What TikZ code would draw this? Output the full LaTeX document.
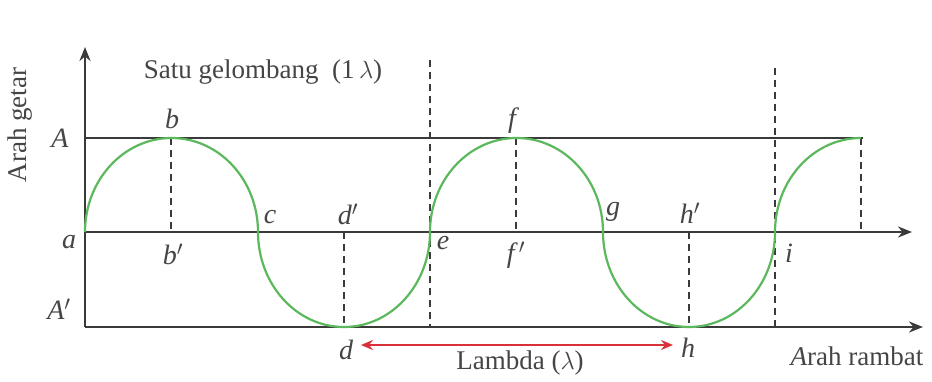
\documentclass[tikz,border=0pt]{standalone}
\usepackage{fontspec}
\setmainfont{Liberation Serif}
\usetikzlibrary{arrows.meta}
\definecolor{axisgray}{HTML}{3A3A3A}
\definecolor{wavegreen}{HTML}{5CB85C}
\definecolor{arrowred}{HTML}{D9303A}
\definecolor{txtgray}{HTML}{454545}
\begin{document}
\begin{tikzpicture}[x=1pt,y=-1pt,
  axis/.style={draw=axisgray,line width=2.8pt},
  axisarrow/.style={axis,-{Stealth[length=14pt,width=11pt]}},
  wave/.style={draw=wavegreen,line width=2.2pt},
  guide/.style={draw=axisgray,line width=2.4pt,dash pattern=on 7pt off 5pt},
  lbl/.style={text=txtgray,font=\fontsize{28}{32}\selectfont\itshape,inner sep=0pt},
  txt/.style={text=txtgray,font=\fontsize{27}{31}\selectfont,inner sep=0pt}]
\useasboundingbox[fill=white] (0,0) rectangle (932,382);
% key points
\coordinate (O) at (85,327);
\coordinate (Ytop) at (85,47);
\coordinate (Atop) at (85,138);
\coordinate (Aend) at (863,138);
\coordinate (a) at (85,232);
\coordinate (Xend) at (912,232);
\coordinate (Bend) at (923,327);
\coordinate (b) at (171,138);
\coordinate (bp) at (171,232);
\coordinate (c) at (258,232);
\coordinate (d) at (344,327);
\coordinate (dp) at (344,232);
\coordinate (e) at (430,232);
\coordinate (etop) at (430,60);
\coordinate (ebot) at (430,327);
\coordinate (f) at (516,138);
\coordinate (fp) at (516,232);
\coordinate (g) at (603,232);
\coordinate (h) at (689,327);
\coordinate (hp) at (689,232);
\coordinate (i) at (775,232);
\coordinate (itop) at (775,68);
\coordinate (ibot) at (775,327);
\coordinate (j) at (861,138);
\coordinate (jp) at (861,232);
% guides
\draw[guide] (b) -- (bp);
\draw[guide] (dp) -- (d);
\draw[guide] (etop) -- (ebot);
\draw[guide] (f) -- (fp);
\draw[guide] (hp) -- (h);
\draw[guide] (itop) -- (ibot);
\draw[guide] (j) -- (jp);
% axes
\draw[axis] (Atop) -- (Aend);
\draw[axisarrow] (a) -- (Xend);
\draw[axisarrow] (O) -- (Bend);
\draw[axisarrow] (O) -- (Ytop);
% wave
\draw[wave] (a) arc[start angle=180,end angle=0,x radius=86.5pt,y radius=94pt]
  arc[start angle=180,end angle=360,x radius=86pt,y radius=95pt]
  arc[start angle=180,end angle=0,x radius=86.5pt,y radius=94pt]
  arc[start angle=180,end angle=360,x radius=86pt,y radius=95pt]
  arc[start angle=180,end angle=90,x radius=86pt,y radius=94pt];
% red lambda arrow
\coordinate (L1) at (361,345);
\coordinate (L2) at (673,345);
\draw[draw=arrowred,line width=1.8pt,{Stealth[length=12pt,width=10pt]}-{Stealth[length=12pt,width=10pt]}] (L1) -- (L2);
% labels
\node[txt,rotate=90] (ag) at (20,125) {Arah getar};
\node[txt] (satu) at (263,72) {Satu gelombang\ \ (1\,$\lambda$)};
\node[lbl] (lA) at (60,138) {A};
\node[lbl] (lAp) at (59,309) {A$'$};
\node[lbl] (la) at (69,242) {a};
\node[lbl] (lb) at (172,119) {b};
\node[lbl] (lbp) at (173,254) {b$'$};
\node[lbl] (lc) at (270,217) {c};
\node[lbl] (ldp) at (348,214) {d$'$};
\node[lbl] (ld) at (346,350) {d};
\node[lbl] (le) at (443,243) {e};
\node[lbl] (lf) at (512,121) {f};
\node[lbl] (lfp) at (516,255) {f$\,'$};
\node[lbl] (lg) at (613,212) {g};
\node[lbl] (lhp) at (690,213) {h$'$};
\node[lbl] (lh) at (688,348) {h};
\node[lbl] (li) at (789,253) {i};
\node[txt] (lam) at (520,363) {Lambda ($\lambda$)};
\node[txt] (ar) at (857,356) {\textit{A}rah rambat};
\end{tikzpicture}
\end{document}
